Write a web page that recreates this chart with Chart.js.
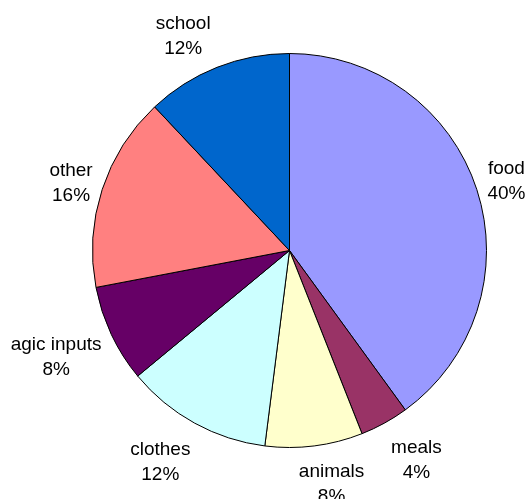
<!DOCTYPE html>
<html>
<head>
<meta charset="utf-8">
<script src="https://cdn.jsdelivr.net/npm/chart.js@4/dist/chart.umd.min.js"></script>
<style>
  html, body { margin: 0; padding: 0; background: #ffffff; }
  #wrap { position: relative; width: 527px; height: 499px; }
</style>
</head>
<body>
<div id="wrap"><canvas id="c"></canvas></div>
<script>
// ---- data ----
const categories = ["food", "meals", "animals", "clothes", "agic inputs", "other", "school"];
const shares = [40, 4, 8, 12, 8, 16, 12];

// ---- style / layout (not data) ----
const sliceColors = ["#9999FF", "#993366", "#FFFFCC", "#CCFFFF", "#660066", "#FF8080", "#0066CC"];
const labelNudge = [[2, 2], [15, 7], [12, 5], [-15, 9], [-5, 8], [-1, 4], [-20, 1]];
const labelFont = '19px "Liberation Sans", Arial, sans-serif';
const lineGap = 25;

const outsideLabels = {
  id: 'outsideLabels',
  afterDatasetsDraw(chart) {
    const ctx = chart.ctx;
    const meta = chart.getDatasetMeta(0);
    const data = chart.data.datasets[0].data;
    const total = data.reduce((a, b) => a + b, 0);
    ctx.save();
    ctx.font = labelFont;
    ctx.fillStyle = '#000000';
    ctx.textAlign = 'center';
    ctx.textBaseline = 'middle';
    meta.data.forEach((arc, i) => {
      const p = arc.getProps(['x', 'y', 'startAngle', 'endAngle', 'outerRadius'], true);
      const mid = (p.startAngle + p.endAngle) / 2;
      const ux = Math.cos(mid), uy = Math.sin(mid);
      const l1 = chart.data.labels[i];
      const l2 = Math.round(data[i] / total * 100) + '%';
      const w = Math.max(ctx.measureText(l1).width, ctx.measureText(l2).width);
      const h = 48;
      const r = p.outerRadius + 10;
      const cx = p.x + ux * r + ux * w / 2 + labelNudge[i][0];
      const cy = p.y + uy * r + uy * h / 2 + labelNudge[i][1];
      ctx.fillText(l1, cx, cy - lineGap / 2);
      ctx.fillText(l2, cx, cy + lineGap / 2);
    });
    ctx.restore();
  }
};

new Chart(document.getElementById('c'), {
  type: 'pie',
  data: {
    labels: categories,
    datasets: [{
      data: shares,
      backgroundColor: sliceColors,
      borderColor: '#000000',
      borderWidth: 1
    }]
  },
  options: {
    responsive: true,
    maintainAspectRatio: false,
    animation: false,
    layout: { padding: { left: 92, top: 53, right: 40, bottom: 51 } },
    plugins: {
      legend: { display: false },
      tooltip: { enabled: false }
    }
  },
  plugins: [outsideLabels]
});
</script>
</body>
</html>
